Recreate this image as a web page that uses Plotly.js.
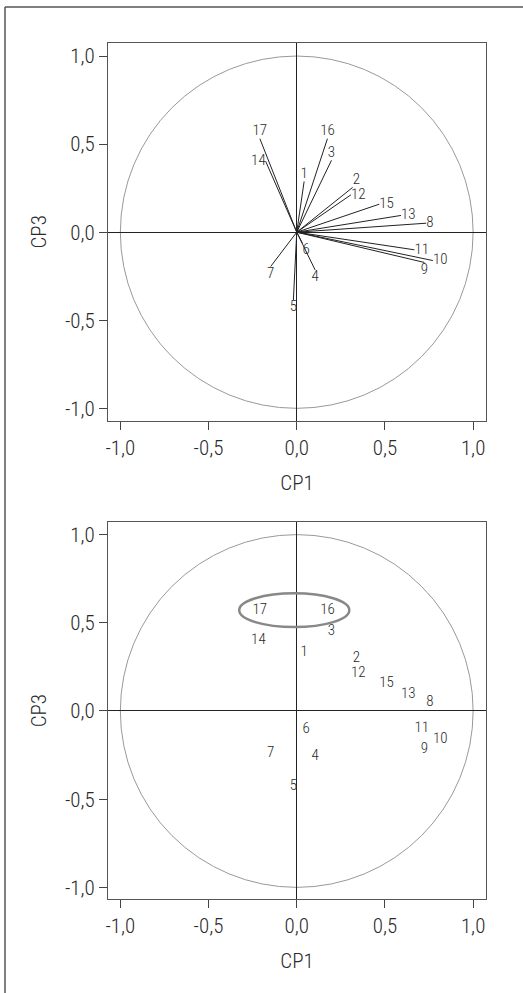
<!DOCTYPE html>
<html>
<head>
<meta charset="utf-8">
<script src="https://cdn.plot.ly/plotly-3.0.1.min.js"></script>
<style>
  html, body { margin: 0; padding: 0; background: #fff; }
  #chart { width: 523px; height: 993px; }
</style>
</head>
<body>
<div id="chart"></div>
<script>
// Variable labels
const variables = ['1','2','3','4','5','6','7','8','9','10','11','12','13','14','15','16','17'];
// Loadings on CP1 (x) and CP3 (y)
const cp1 = [0.042, 0.317, 0.197, 0.104, -0.019, 0.032, -0.148, 0.734, 0.724, 0.772, 0.667, 0.307, 0.591, -0.176, 0.468, 0.174, -0.209];
const cp3 = [0.288, 0.254, 0.408, -0.214, -0.385, -0.062, -0.195, 0.051, -0.172, -0.161, -0.100, 0.212, 0.095, 0.402, 0.159, 0.531, 0.531];
// Label placement relative to each loading point
const labelPos = ['top center','top right','top center','bottom center','bottom center','bottom right','bottom center',
                  'middle right','bottom center','middle right','middle right','middle right','middle right',
                  'middle left','middle right','top center','top center'];
// Axis ticks
const tickVals = [-1, -0.5, 0, 0.5, 1];
const tickLabels = ['-1,0', '-0,5', '0,0', '0,5', '1,0'];
// Highlighted group in lower plot (ellipse bounds)
const groupX = [-0.326, 0.298];
const groupY = [0.476, 0.667];

const FONT = '"Roboto Condensed", Roboto, sans-serif';
const TXT = '#2a2a2a';

// Build vector segments from origin
const segX = [], segY = [];
cp1.forEach((v, i) => { segX.push(0, v, null); segY.push(0, cp3[i], null); });

const vectors = {
  x: segX, y: segY, xaxis: 'x', yaxis: 'y', mode: 'lines',
  line: { color: '#222', width: 1 }, hoverinfo: 'skip', showlegend: false
};
const labelFont = { family: FONT, size: 15, weight: 300, color: TXT };
const labelsTop = {
  x: cp1, y: cp3, text: variables, xaxis: 'x', yaxis: 'y', mode: 'text',
  textposition: labelPos, textfont: labelFont, showlegend: false
};
const labelsBottom = {
  x: cp1, y: cp3, text: variables, xaxis: 'x2', yaxis: 'y2', mode: 'text',
  textposition: labelPos, textfont: labelFont, showlegend: false
};

const titleFont = { family: FONT, size: 21, weight: 300, color: TXT };
function axis(extra) {
  return Object.assign({
    tickmode: 'array', tickvals: tickVals, ticktext: tickLabels,
    ticks: 'outside', ticklen: 8, tickcolor: '#444', tickwidth: 1,
    showline: true, linecolor: '#555', linewidth: 1, mirror: true,
    showgrid: false, zeroline: true, zerolinecolor: '#222', zerolinewidth: 1,
    tickfont: { family: FONT, size: 21, weight: 300, color: TXT },
    fixedrange: true
  }, extra);
}

const layout = {
  width: 523, height: 993,
  margin: { l: 108, r: 37, t: 43, b: 94 },
  paper_bgcolor: '#fff', plot_bgcolor: '#fff',
  font: { family: FONT, color: TXT },
  xaxis: axis({ domain: [0, 1], range: [-1.07, 1.073], anchor: 'y',
    title: { text: 'CP1', font: titleFont, standoff: 16 } }),
  yaxis: axis({ domain: [0.5588, 1], range: [-1.07, 1.074], anchor: 'x',
    title: { text: 'CP3', font: titleFont, standoff: 12 } }),
  xaxis2: axis({ domain: [0, 1], range: [-1.07, 1.073], anchor: 'y2',
    title: { text: 'CP1', font: titleFont, standoff: 16 } }),
  yaxis2: axis({ domain: [0, 0.4401], range: [-1.066, 1.07], anchor: 'x2',
    title: { text: 'CP3', font: titleFont, standoff: 12 } }),
  shapes: [
    { type: 'circle', xref: 'x', yref: 'y', x0: -1, x1: 1, y0: -1, y1: 1,
      line: { color: '#999', width: 1 }, layer: 'below' },
    { type: 'circle', xref: 'x2', yref: 'y2', x0: -1, x1: 1, y0: -1, y1: 1,
      line: { color: '#999', width: 1 }, layer: 'below' },
    { type: 'circle', xref: 'x2', yref: 'y2', x0: groupX[0], x1: groupX[1], y0: groupY[0], y1: groupY[1],
      line: { color: '#888', width: 2.5 } },
    // outer frame (left and top edges)
    { type: 'line', xref: 'paper', yref: 'paper', x0: -0.2725, x1: -0.2725, y0: 1.0421, y1: -0.12,
      line: { color: '#555', width: 1.5 } },
    { type: 'line', xref: 'paper', yref: 'paper', x0: -0.2725, x1: 1.12, y0: 1.0421, y1: 1.0421,
      line: { color: '#555', width: 1.5 } }
  ]
};

Plotly.newPlot('chart', [vectors, labelsTop, labelsBottom], layout, { displayModeBar: false, staticPlot: true });
</script>
</body>
</html>
